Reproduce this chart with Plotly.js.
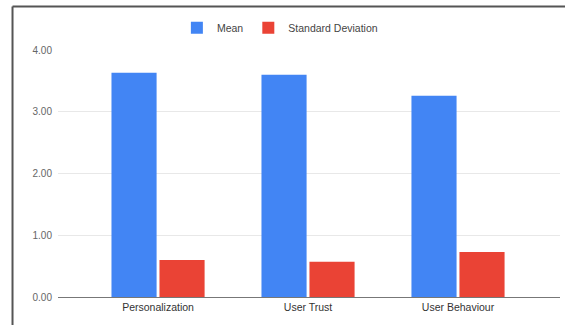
<!DOCTYPE html>
<html>
<head>
<meta charset="utf-8">
<script src="https://cdn.plot.ly/plotly-3.0.1.min.js"></script>
<style>
html,body{margin:0;padding:0;background:#fff;}
#chart{width:565px;height:325px;}
</style>
</head>
<body>
<div id="chart"></div>
<script>
var categories = ["Personalization", "User Trust", "User Behaviour"];
var meanValues = [3.63, 3.60, 3.26];
var sdValues = [0.60, 0.57, 0.73];
var yTickVals = [0, 1, 2, 3, 4];
var yTickText = ["0.00", "1.00", "2.00", "3.00", "4.00"];

var traces = [
  {type: "bar", name: "Mean", x: categories, y: meanValues,
   marker: {color: "#4285f4", line: {width: 0}}, hoverinfo: "y+name"},
  {type: "bar", name: "Standard Deviation", x: categories, y: sdValues,
   marker: {color: "#ea4335", line: {width: 0}}, hoverinfo: "y+name"}
];

var layout = {
  width: 565, height: 325,
  margin: {l: 58, r: 5, t: 50, b: 28, pad: 0},
  paper_bgcolor: "#ffffff", plot_bgcolor: "#ffffff",
  font: {family: "Liberation Sans, Arial, sans-serif", size: 10, color: "#444"},
  barmode: "group", bargap: 0.36, bargroupgap: 0.06,
  showlegend: true,
  legend: {orientation: "h", x: 0.442, xanchor: "center", y: 1.09, yanchor: "middle",
           font: {size: 10.5, color: "#444"}, itemwidth: 30, traceorder: "normal"},
  xaxis: {type: "category", range: [-0.667, 2.68], showgrid: false, zeroline: false,
          showline: true, linecolor: "#777", linewidth: 1, ticks: "",
          tickfont: {size: 10.5, color: "#333"}, fixedrange: true},
  yaxis: {range: [0, 4], tickvals: yTickVals, ticktext: yTickText,
          showgrid: true, gridcolor: "#e8e8e8", gridwidth: 1,
          zeroline: false, showline: false, ticks: "", ticklen: 0,
          ticklabelstandoff: 5,
          tickfont: {size: 10, color: "#666"}, fixedrange: true},
  shapes: [
    {type: "line", xref: "paper", yref: "paper", x0: -0.0906, x1: -0.0906, y0: -0.2, y1: 1.176,
     line: {color: "#555", width: 2}},
    {type: "line", xref: "paper", yref: "paper", x0: -0.0906, x1: 1.02, y0: 1.176, y1: 1.176,
     line: {color: "#555", width: 2}}
  ]
};

Plotly.newPlot("chart", traces, layout, {displayModeBar: false, staticPlot: true});
</script>
</body>
</html>
